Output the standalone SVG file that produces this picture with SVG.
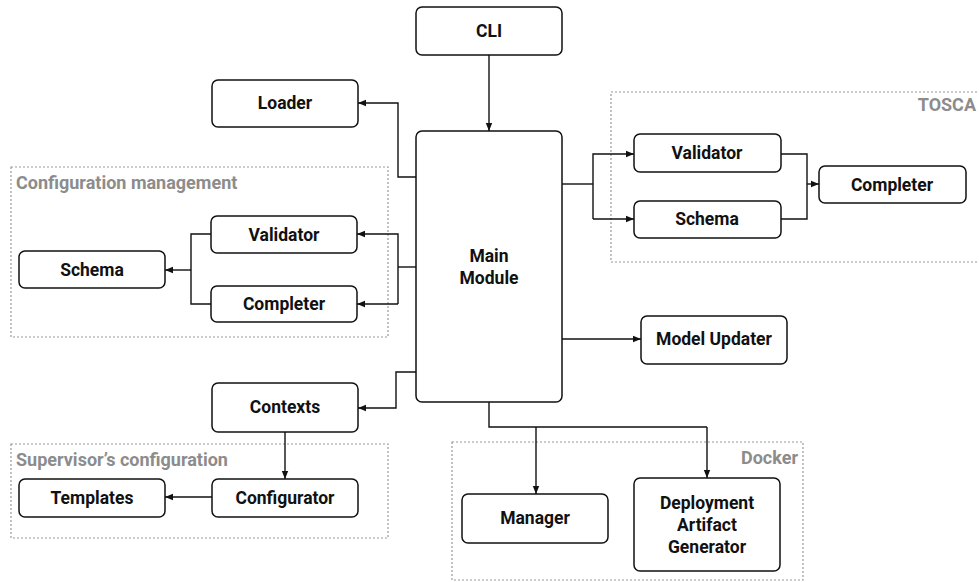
<svg xmlns="http://www.w3.org/2000/svg" width="979" height="582" viewBox="0 0 979 582">
<defs>
<marker id="ah" viewBox="0 0 8 8" refX="8" refY="4" markerWidth="8" markerHeight="8" markerUnits="userSpaceOnUse" orient="auto">
<path d="M0,0.8 L8,4 L0,7.2 z" fill="#111"/>
</marker>
<style>
.box{fill:#fff;stroke:#111;stroke-width:1.5}
.grp{fill:none;stroke:#999;stroke-width:1.2;stroke-dasharray:2 2}
.t{font-family:Roboto,"Liberation Sans",sans-serif;font-weight:bold;font-size:17.5px;fill:#111;text-anchor:middle}
.g{font-family:Roboto,"Liberation Sans",sans-serif;font-weight:bold;font-size:18px;fill:#8c8c8c}
.c{fill:none;stroke:#111;stroke-width:1.4}
.a{marker-end:url(#ah)}
</style>
</defs>
<rect width="979" height="582" fill="#fff"/>
<g id="groups">
<rect class="grp" x="11" y="167" width="377" height="170"/>
<text class="g" x="16" y="189">Configuration management</text>
<rect class="grp" x="611" y="92" width="380" height="170"/>
<text class="g" x="976" y="111" text-anchor="end">TOSCA</text>
<rect class="grp" x="11" y="444" width="377" height="94"/>
<text class="g" x="16" y="466">Supervisor’s configuration</text>
<rect class="grp" x="452" y="442" width="351" height="138"/>
<text class="g" x="798" y="464" text-anchor="end">Docker</text>
</g>
<g id="connectors">
<path class="c a" d="M489,55 V131"/>
<path class="c a" d="M416,177 H398 V103 H358"/>
<path class="c" d="M416,267 H398"/>
<path class="c a" d="M398,304 V234 H357"/>
<path class="c a" d="M398,304 H357"/>
<path class="c" d="M211,234 H191 V304 H211"/>
<path class="c a" d="M191,270 H165"/>
<path class="c" d="M562,184 H593"/>
<path class="c a" d="M593,219 V154 H634"/>
<path class="c a" d="M593,219 H634"/>
<path class="c" d="M781,154 H807 V219 H781"/>
<path class="c a" d="M807,184 H819"/>
<path class="c a" d="M562,339 H641"/>
<path class="c a" d="M416,372 H396 V408 H358"/>
<path class="c a" d="M285,432 V479"/>
<path class="c a" d="M212,497 H165"/>
<path class="c" d="M489,402 V427 H707"/>
<path class="c a" d="M536,427 V494"/>
<path class="c a" d="M707,427 V478"/>
</g>
<g id="cli"><rect class="box" x="416" y="7" width="146" height="48" rx="6"/><text class="t" x="489" y="37">CLI</text></g>
<g id="main"><rect class="box" x="416" y="131" width="146" height="271" rx="6"/><text class="t" x="489" y="262">Main</text><text class="t" x="489" y="284">Module</text></g>
<g id="loader"><rect class="box" x="212" y="80" width="146" height="47" rx="6"/><text class="t" x="285" y="109">Loader</text></g>
<g id="cm-validator"><rect class="box" x="211" y="216" width="146" height="37" rx="6"/><text class="t" x="284" y="241">Validator</text></g>
<g id="cm-completer"><rect class="box" x="211" y="286" width="146" height="36" rx="6"/><text class="t" x="284" y="310">Completer</text></g>
<g id="cm-schema"><rect class="box" x="19" y="251" width="146" height="37" rx="6"/><text class="t" x="92" y="276">Schema</text></g>
<g id="tosca-validator"><rect class="box" x="634" y="134" width="147" height="38" rx="6"/><text class="t" x="707" y="159">Validator</text></g>
<g id="tosca-schema"><rect class="box" x="634" y="201" width="147" height="37" rx="6"/><text class="t" x="707" y="225">Schema</text></g>
<g id="tosca-completer"><rect class="box" x="819" y="166" width="147" height="37" rx="6"/><text class="t" x="892" y="191">Completer</text></g>
<g id="model-updater"><rect class="box" x="641" y="316" width="146" height="48" rx="6"/><text class="t" x="714" y="345">Model Updater</text></g>
<g id="contexts"><rect class="box" x="212" y="383" width="146" height="49" rx="6"/><text class="t" x="285" y="413">Contexts</text></g>
<g id="configurator"><rect class="box" x="212" y="479" width="146" height="38" rx="6"/><text class="t" x="285" y="504">Configurator</text></g>
<g id="templates"><rect class="box" x="19" y="479" width="146" height="38" rx="6"/><text class="t" x="92" y="504">Templates</text></g>
<g id="manager"><rect class="box" x="462" y="494" width="146" height="49" rx="6"/><text class="t" x="535" y="524">Manager</text></g>
<g id="deployment"><rect class="box" x="634" y="478" width="146" height="93" rx="6"/><text class="t" x="707" y="509">Deployment</text><text class="t" x="707" y="531">Artifact</text><text class="t" x="707" y="553">Generator</text></g>
</svg>
